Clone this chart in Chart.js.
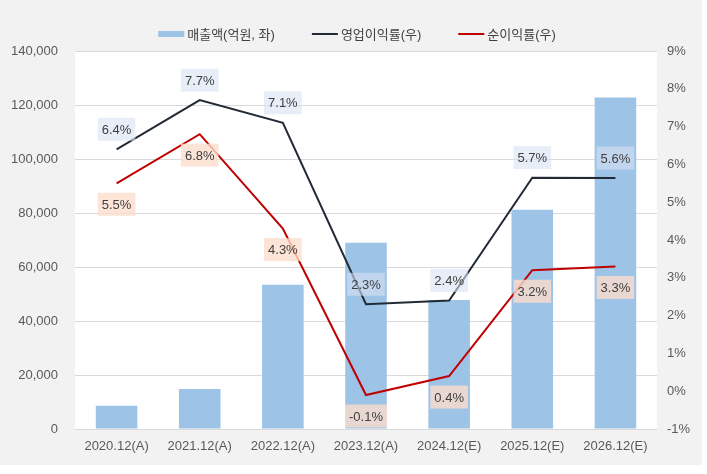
<!DOCTYPE html>
<html>
<head>
<meta charset="utf-8">
<script src="https://cdn.jsdelivr.net/npm/chart.js@4"></script>
<style>
  body { margin: 0; background: #ffffff; }
  canvas { display: block; }
</style>
</head>
<body>
<canvas id="chart" width="702" height="465"></canvas>
<script>
const categories = ['2020.12(A)', '2021.12(A)', '2022.12(A)', '2023.12(A)', '2024.12(E)', '2025.12(E)', '2026.12(E)'];
const sales = [8600, 14800, 53400, 69000, 47800, 81200, 122800];
const opMargin = [6.4, 7.7, 7.1, 2.3, 2.4, 5.65, 5.64];
const netMargin = [5.5, 6.8, 4.3, -0.1, 0.4, 3.2, 3.3];
const seriesNames = ['매출액(억원, 좌)', '영업이익률(우)', '순이익률(우)'];

const FONT = "'Liberation Sans', 'Noto Sans CJK KR', sans-serif";
const BAR_COLOR = '#9dc3e6';
const OP_COLOR = '#222a35';
const NET_COLOR = '#c00000';

// gray panel + white plot area
const backgroundPlugin = {
    id: 'background',
    beforeDraw(chart) {
        const {ctx, chartArea} = chart;
        ctx.save();
        ctx.fillStyle = '#f2f2f2';
        ctx.fillRect(0, 0, chart.width, chart.height);
        ctx.fillStyle = '#ffffff';
        ctx.fillRect(chartArea.left, chartArea.top, chartArea.right - chartArea.left, chartArea.bottom - chartArea.top);
        ctx.restore();
    }
};

// value boxes on the two margin lines
const valueLabelPlugin = {
    id: 'valueLabels',
    afterDatasetsDraw(chart) {
        const {ctx} = chart;
        const styles = {
            1: {fill: 'rgba(216, 226, 243, 0.6)', dy: -20},
            2: {fill: 'rgba(251, 221, 204, 0.8)', dy: 21}
        };
        ctx.save();
        ctx.font = '13px ' + FONT;
        ctx.textAlign = 'center';
        ctx.textBaseline = 'middle';
        [1, 2].forEach(idx => {
            const meta = chart.getDatasetMeta(idx);
            const values = chart.data.datasets[idx].data;
            meta.data.forEach((pt, i) => {
                const text = values[i].toFixed(1) + '%';
                const w = ctx.measureText(text).width + 8;
                const h = 23;
                const cx = pt.x;
                const cy = pt.y + styles[idx].dy;
                ctx.fillStyle = styles[idx].fill;
                ctx.fillRect(cx - w / 2, cy - h / 2, w, h);
                ctx.fillStyle = '#404040';
                ctx.fillText(text, cx, cy + 1);
            });
        });
        ctx.restore();
    }
};

// legend drawn at top
const legendPlugin = {
    id: 'topLegend',
    afterDraw(chart) {
        const {ctx} = chart;
        ctx.save();
        ctx.font = '13px ' + FONT;
        ctx.textBaseline = 'middle';
        const boxW = 26, gapText = 3, gapItem = 37;
        const widths = seriesNames.map(n => ctx.measureText(n).width);
        const total = widths.reduce((a, w) => a + boxW + gapText + w, 0) + gapItem * (seriesNames.length - 1);
        let x = 357 - total / 2;
        const y = 34;
        const colors = [BAR_COLOR, OP_COLOR, NET_COLOR];
        seriesNames.forEach((name, i) => {
            if (i === 0) {
                ctx.fillStyle = colors[i];
                ctx.fillRect(x, y - 3, boxW, 6);
            } else {
                ctx.strokeStyle = colors[i];
                ctx.lineWidth = 2;
                ctx.beginPath();
                ctx.moveTo(x, y);
                ctx.lineTo(x + boxW, y);
                ctx.stroke();
            }
            ctx.fillStyle = '#404040';
            ctx.fillText(name, x + boxW + gapText, y + 1);
            x += boxW + gapText + widths[i] + gapItem;
        });
        ctx.restore();
    }
};

new Chart(document.getElementById('chart'), {
    data: {
        labels: categories,
        datasets: [
            {
                type: 'bar',
                label: seriesNames[0],
                data: sales,
                backgroundColor: BAR_COLOR,
                yAxisID: 'y',
                categoryPercentage: 1,
                barPercentage: 0.5,
                order: 3
            },
            {
                type: 'line',
                label: seriesNames[1],
                data: opMargin,
                borderColor: OP_COLOR,
                borderWidth: 2,
                pointRadius: 0,
                tension: 0,
                yAxisID: 'y1',
                order: 2
            },
            {
                type: 'line',
                label: seriesNames[2],
                data: netMargin,
                borderColor: NET_COLOR,
                borderWidth: 2,
                pointRadius: 0,
                tension: 0,
                yAxisID: 'y1',
                order: 1
            }
        ]
    },
    options: {
        responsive: false,
        animation: false,
        devicePixelRatio: 1,
        layout: {padding: {top: 51, left: 0, right: 0, bottom: 0}},
        plugins: {
            legend: {display: false},
            tooltip: {enabled: false}
        },
        scales: {
            x: {
                grid: {display: false, drawTicks: false},
                border: {display: false},
                ticks: {color: '#595959', font: {size: 13, family: FONT}, padding: 10},
                afterFit(scale) { scale.height = 36; }
            },
            y: {
                position: 'left',
                min: 0,
                max: 140000,
                ticks: {
                    stepSize: 20000,
                    color: '#595959',
                    font: {size: 13, family: FONT},
                    padding: 17,
                    callback: v => v.toLocaleString('en-US')
                },
                grid: {color: '#d9d9d9', lineWidth: 1, drawTicks: false},
                border: {display: false},
                afterFit(scale) { scale.width = 75; }
            },
            y1: {
                position: 'right',
                min: -1,
                max: 9,
                ticks: {
                    stepSize: 1,
                    color: '#595959',
                    font: {size: 13, family: FONT},
                    padding: 10,
                    callback: v => v + '%'
                },
                grid: {display: false, drawTicks: false},
                border: {display: false},
                afterFit(scale) { scale.width = 45; }
            }
        }
    },
    plugins: [backgroundPlugin, valueLabelPlugin, legendPlugin]
});
</script>
</body>
</html>
